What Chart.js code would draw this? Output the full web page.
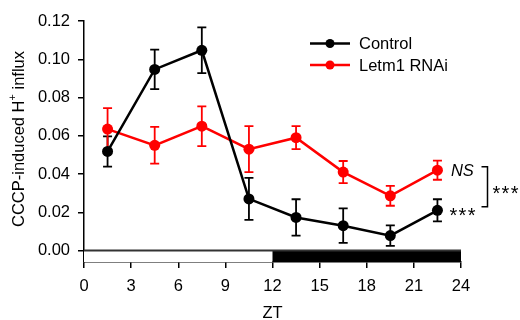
<!DOCTYPE html>
<html>
<head>
<meta charset="utf-8">
<script src="https://cdn.jsdelivr.net/npm/chart.js@4/dist/chart.umd.min.js"></script>
<style>
  html,body{margin:0;padding:0;background:#fff;}
  #wrap{width:520px;height:320px;}
</style>
</head>
<body>
<div id="wrap"><canvas id="ztChart" width="520" height="320"></canvas></div>
<script>
// data
const zt = [1.5, 4.5, 7.5, 10.5, 13.5, 16.5, 19.5, 22.5];
const control = [0.0518, 0.0947, 0.1047, 0.027, 0.0173, 0.013, 0.0078, 0.021];
const controlErr = [0.0079, 0.0103, 0.012, 0.011, 0.0095, 0.009, 0.0054, 0.0058];
const rnai = [0.0635, 0.055, 0.065, 0.053, 0.059, 0.041, 0.0286, 0.042];
const rnaiErr = [0.011, 0.0096, 0.0104, 0.012, 0.006, 0.0058, 0.0052, 0.005];
const xTicks = [0, 3, 6, 9, 12, 15, 18, 21, 24];
const yTicks = [0, 0.02, 0.04, 0.06, 0.08, 0.10, 0.12];
const lightPhase = [0, 12];
const darkPhase = [12, 24];

const FONT = "'Liberation Sans', Arial, sans-serif";

function pts(ys){ return zt.map((x,i)=>({x:x, y:ys[i]})); }

// light/dark bar, zero line and error bars under the lines
const underlay = {
  id:'underlay',
  beforeDatasetsDraw(chart){
    const ctx = chart.ctx, xs = chart.scales.x, ys = chart.scales.y;
    const y0 = ys.getPixelForValue(0), yb = ys.getPixelForValue(ys.min);
    ctx.save();
    ctx.fillStyle = '#fff';
    ctx.fillRect(xs.getPixelForValue(lightPhase[0]), y0, xs.getPixelForValue(lightPhase[1]) - xs.getPixelForValue(lightPhase[0]), yb - y0);
    ctx.fillStyle = '#000';
    ctx.fillRect(xs.getPixelForValue(darkPhase[0]), y0, xs.getPixelForValue(darkPhase[1]) - xs.getPixelForValue(darkPhase[0]), yb - y0);
    ctx.strokeStyle = '#333';
    ctx.lineWidth = 2;
    ctx.beginPath();
    ctx.moveTo(xs.left, y0); ctx.lineTo(xs.right, y0);
    ctx.stroke();

    // error bars
    const errs = [controlErr, rnaiErr];
    chart.data.datasets.forEach((ds, d)=>{
      ctx.strokeStyle = ds.borderColor;
      ctx.lineWidth = 1.8;
      ds.data.forEach((p, i)=>{
        const px = xs.getPixelForValue(p.x);
        const top = ys.getPixelForValue(p.y + errs[d][i]);
        const bot = ys.getPixelForValue(p.y - errs[d][i]);
        ctx.beginPath();
        ctx.moveTo(px, top); ctx.lineTo(px, bot);
        ctx.moveTo(px-4.5, top); ctx.lineTo(px+4.5, top);
        ctx.moveTo(px-4.5, bot); ctx.lineTo(px+4.5, bot);
        ctx.stroke();
      });
    });
    ctx.restore();
  }
};

// titles, legend and significance marks
const overlay = {
  id:'overlay',
  afterDraw(chart){
    const ctx = chart.ctx, xs = chart.scales.x, ys = chart.scales.y;
    ctx.save();
    ctx.fillStyle = '#000';
    ctx.textBaseline = 'middle';

    // y title with superscript
    const big = '16.5px ' + FONT, small = '11px ' + FONT;
    const a = 'CCCP-induced H', b = '+', c = ' influx';
    ctx.font = big; const wa = ctx.measureText(a).width, wc = ctx.measureText(c).width;
    ctx.font = small; const wb = ctx.measureText(b).width;
    ctx.translate(19, 139);
    ctx.rotate(-Math.PI/2);
    let sx = -(wa + wb + wc)/2;
    ctx.textAlign = 'left';
    ctx.font = big; ctx.fillText(a, sx, 0);
    ctx.font = small; ctx.fillText(b, sx + wa, -6);
    ctx.font = big; ctx.fillText(c, sx + wa + wb, 0);
    ctx.setTransform(1,0,0,1,0,0);

    // x title
    ctx.textAlign = 'center';
    ctx.font = big;
    ctx.fillText('ZT', xs.getPixelForValue(12), 313);

    // legend
    ctx.textAlign = 'left';
    chart.data.datasets.forEach((ds, i)=>{
      const ly = 43.5 + i*21.5;
      ctx.strokeStyle = ds.borderColor;
      ctx.lineWidth = 2.5;
      ctx.beginPath(); ctx.moveTo(310, ly); ctx.lineTo(350, ly); ctx.stroke();
      ctx.fillStyle = ds.borderColor;
      ctx.beginPath(); ctx.arc(330, ly, 4.5, 0, Math.PI*2); ctx.fill();
      ctx.fillStyle = '#000';
      ctx.font = big;
      ctx.fillText(ds.label, 359, ly + 1);
    });

    // significance
    const last = zt.length - 1;
    const lx = xs.getPixelForValue(zt[last]);
    const yRed = ys.getPixelForValue(rnai[last]);
    const yBlk = ys.getPixelForValue(control[last]);
    ctx.font = 'italic 16.5px ' + FONT;
    ctx.textBaseline = 'alphabetic';
    ctx.fillText('NS', lx + 13.5, yRed + 6);
    ctx.font = '20px ' + FONT;
    for (let k=0;k<3;k++) ctx.fillText('*', lx + 12 + k*9.1, yBlk + 12);
    const yMid = (yRed + yBlk)/2;
    for (let k=0;k<3;k++) ctx.fillText('*', 492.5 + k*9.1, yMid + 10);
    ctx.strokeStyle = '#000';
    ctx.lineWidth = 1.5;
    ctx.beginPath();
    ctx.moveTo(481.5, yRed - 3.5); ctx.lineTo(487.5, yRed - 3.5);
    ctx.lineTo(487.5, yBlk - 3.5); ctx.lineTo(481.5, yBlk - 3.5);
    ctx.stroke();
    ctx.restore();
  }
};

const axisCommon = {
  grid:{display:true, drawOnChartArea:false, drawTicks:true, tickLength:6, color:'#000', lineWidth:1.5},
  border:{display:true, color:'#000', width:1.5}
};

new Chart(document.getElementById('ztChart'), {
  type:'line',
  data:{
    datasets:[{
      label:'Control',
      data:pts(control),
      borderColor:'#000',
      backgroundColor:'#000',
      borderWidth:2.5,
      pointRadius:5.5,
      pointBorderWidth:0,
      tension:0
    },{
      label:'Letm1 RNAi',
      data:pts(rnai),
      borderColor:'#f00',
      backgroundColor:'#f00',
      borderWidth:2.5,
      pointRadius:5.5,
      pointBorderWidth:0,
      tension:0
    }]
  },
  options:{
    responsive:false,
    animation:false,
    devicePixelRatio:1,
    layout:{padding:{left:0, top:21, right:59, bottom:0}},
    plugins:{legend:{display:false}, tooltip:{enabled:false}},
    scales:{
      x:{
        type:'linear', min:0, max:24,
        afterBuildTicks:s=>{ s.ticks = xTicks.map(v=>({value:v})); },
        afterFit:s=>{ s.height = 58; },
        ticks:{color:'#000', font:{family:FONT, size:16.5}, padding:9, maxRotation:0},
        ...axisCommon
      },
      y:{
        type:'linear', min:-0.006, max:0.12,
        afterBuildTicks:s=>{ s.ticks = yTicks.map(v=>({value:v})); },
        afterFit:s=>{ s.width = 84; },
        ticks:{color:'#000', font:{family:FONT, size:16.5}, padding:8, callback:v=>v.toFixed(2)},
        ...axisCommon
      }
    }
  },
  plugins:[underlay, overlay]
});
</script>
</body>
</html>
